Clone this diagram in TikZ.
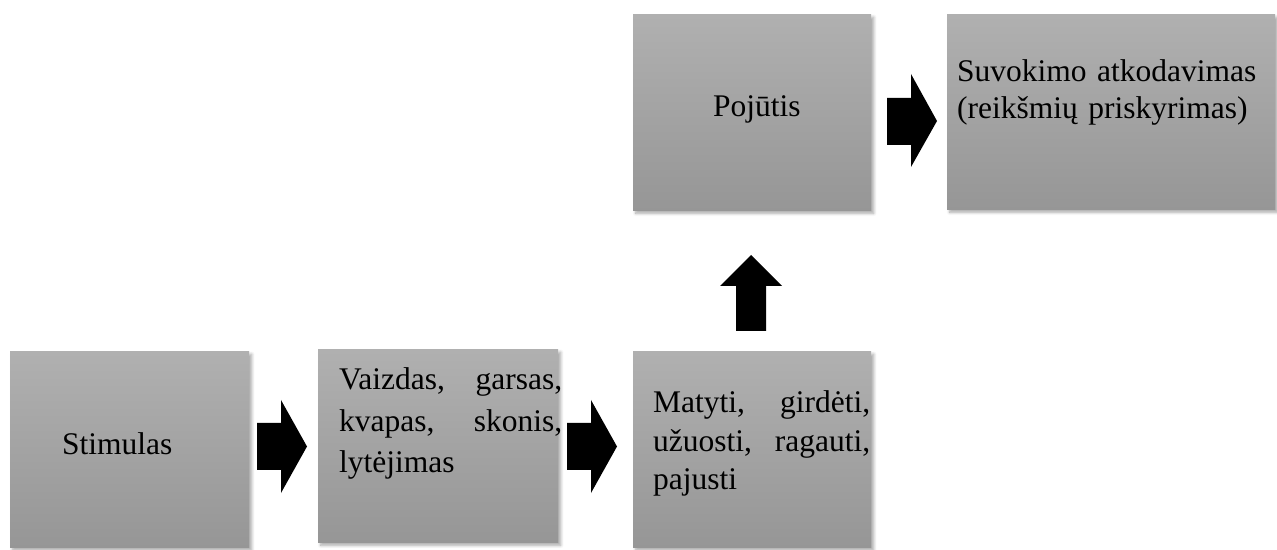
\documentclass[tikz,border=0pt]{standalone}
\usepackage{fontspec}
\setmainfont{Liberation Serif}
\usetikzlibrary{shadows.blur}
\definecolor{boxtop}{RGB}{176,176,176}
\definecolor{boxbot}{RGB}{150,150,150}
\begin{document}
\begin{tikzpicture}[x=1pt,y=1pt,
  box/.style={anchor=south west, inner sep=0pt, draw=none,
    top color=boxtop, bottom color=boxbot,
    blur shadow={shadow xshift=2.5pt, shadow yshift=-2.5pt,
      shadow blur radius=3pt, shadow blur steps=6, shadow opacity=35}},
  label/.style={anchor=base west, inner sep=0pt, align=left,
    font=\fontsize{31.5}{38}\selectfont},
  blockarrow/.style={fill=black, draw=none}]
\useasboundingbox (0,0) rectangle (1277,549);

% process boxes
\node[box, minimum width=239pt, minimum height=196pt] (stim) at (10,1) {};
\node[box, minimum width=240pt, minimum height=193pt] (sig)  at (318,6) {};
\node[box, minimum width=238pt, minimum height=196pt] (act)  at (633,1) {};
\node[box, minimum width=238pt, minimum height=196pt] (sens) at (633,338) {};
\node[box, minimum width=328pt, minimum height=195pt] (perc) at (947,339) {};

% box texts
\node[label] (tstim) at (62,94) {Stimulas};
\node[label, text width=223pt, font=\fontsize{31.5}{41.5}\selectfont] (tsig) at (339,159)
  {Vaizdas,\hfill garsas,\\ kvapas,\hfill skonis,\\ lytėjimas};
\node[label, text width=217pt, font=\fontsize{31.5}{38.5}\selectfont] (tact) at (653,136)
  {Matyti,\hfill girdėti,\\ užuosti,\hfill ragauti,\\ pajusti};
\node[label] (tsens) at (713,432) {Pojūtis};
\node[label, text width=310pt, font=\fontsize{31.5}{37}\selectfont] (tperc) at (957,467)
  {Suvokimo atkodavimas\\ (reikšmių priskyrimas)};

% block arrows between the boxes
\fill[blockarrow] (257,79) -- (257,126) -- (281,126) -- (281,149) -- (307,102.5)
  -- (281,56) -- (281,79) -- cycle;
\fill[blockarrow] (567,79) -- (567,126) -- (591,126) -- (591,149) -- (617,102.5)
  -- (591,56) -- (591,79) -- cycle;
\fill[blockarrow] (736,218) -- (766,218) -- (766,263) -- (782,263) -- (751,294)
  -- (720,263) -- (736,263) -- cycle;
\fill[blockarrow] (887,404) -- (887,451) -- (911,451) -- (911,475) -- (937,428)
  -- (911,382) -- (911,404) -- cycle;
\end{tikzpicture}
\end{document}
